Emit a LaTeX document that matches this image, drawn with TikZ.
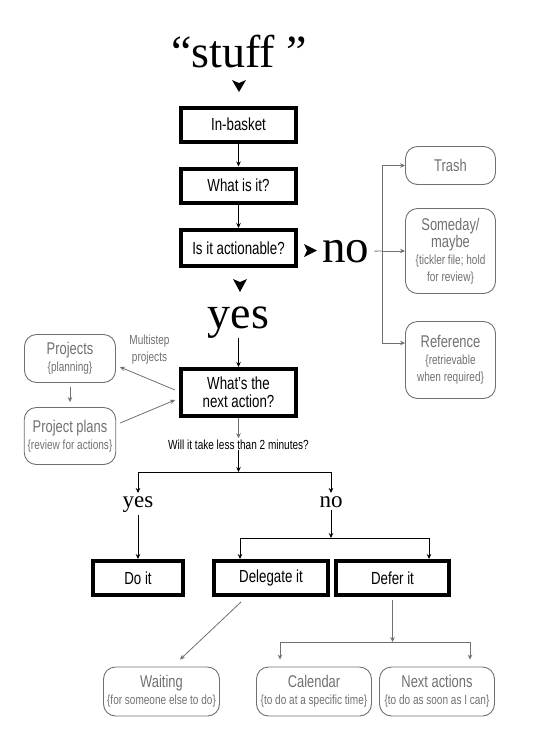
\documentclass[tikz,border=0pt]{standalone}
\usepackage{fontspec}
\setmainfont{Liberation Serif}
\setsansfont{Liberation Sans}[FakeStretch=0.76]
\usepackage{tikz}
\usetikzlibrary{arrows.meta, positioning}
\definecolor{GTDGray}{HTML}{707070}

\newcommand{\subnote}[1]{{\fontsize{13.2}{17}\selectfont #1}}

\begin{document}
\begin{tikzpicture}[
  x=1pt, y=1pt,
  action/.style={rectangle, draw, line width=4pt, minimum width=115pt, minimum height=34pt, align=center, font=\sffamily\fontsize{17.5}{18}\selectfont},
  outcome/.style={rectangle, draw=GTDGray, text=GTDGray, line width=0.9pt, rounded corners=12pt, minimum width=90pt, align=center, font=\sffamily\fontsize{17}{17}\selectfont},
  bigword/.style={inner sep=0pt, font=\fontsize{46}{46}\selectfont},
  smallword/.style={inner sep=3pt, font=\fontsize{23}{23}\selectfont},
  note/.style={inner sep=1pt, align=center, font=\sffamily\fontsize{13.2}{17}\selectfont},
  >={Stealth[length=5pt, width=4.5pt]},
  flow/.style={->, line width=0.8pt},
  gflow/.style={->, line width=0.8pt, draw=GTDGray},
  gline/.style={line width=0.8pt, draw=GTDGray}
]
\useasboundingbox (0,0) rectangle (542,-748);

% collect and process
\node[bigword, anchor=base] (Stuff) at (239,-67) {“stuff ”};
\fill (232,-80) -- (239,-83) -- (246,-80) -- (239,-92) -- cycle;
\node[action, minimum width=115pt] (InBasket) at (238.5,-124.5) {In-basket};
\node[action] (WhatIs) at (238.5,-185.5) {What is it?};
\node[action, minimum height=36pt] (Actionable) at (238.5,-248) {Is it actionable?};
\draw[flow] (InBasket) -- (WhatIs);
\draw[flow] (WhatIs) -- (Actionable);

% not actionable
\fill (304,-244) -- (307,-250.5) -- (304,-257) -- (317,-250.5) -- cycle;
\node[bigword, font=\fontsize{47}{47}\selectfont, anchor=base west] (No) at (322,-262) {no};
\node[outcome, minimum height=38pt] (Trash) at (450.5,-165.5) {Trash};
\node[outcome, minimum height=85pt] (Someday) at (450.5,-251) {Someday/\\maybe\\\subnote{\{tickler file; hold}\\\subnote{for review\}}};
\node[outcome, minimum height=77pt] (Reference) at (450.5,-360) {Reference\\\subnote{\{retrievable}\\\subnote{when required\}}};
\coordinate (NoSplit) at (382,-251);
\draw[gline] ([xshift=5pt]No.east) -- (NoSplit);
\draw[gflow] (NoSplit) |- (Trash.west);
\draw[gflow] (NoSplit) -- (Someday.west);
\draw[gflow] (NoSplit) |- ([yshift=17pt]Reference.west);

% actionable
\fill (233,-279) -- (240,-282) -- (247,-279) -- (240,-292) -- cycle;
\node[bigword, anchor=base] (Yes) at (238.5,-328) {yes};
\node[action, minimum height=47pt] (NextAction) at (238.5,-392.5) {What’s the\\next action?};
\draw[flow] (Yes) -- (NextAction);

% projects
\node[outcome, minimum width=91pt, minimum height=48pt] (Projects) at (70,-358.5) {Projects\\\subnote{\{planning\}}};
\node[outcome, minimum width=91pt, minimum height=57pt] (Plans) at (70,-436) {Project plans\\\subnote{\{review for actions\}}};
\node[note, text=GTDGray] (Multistep) at (149.5,-350) {Multistep\\projects};
\draw[gflow, shorten <=4pt, shorten >=5pt] (Projects) -- (Plans);
\draw[gflow] ([xshift=-4pt, yshift=2.5pt]NextAction.west) -- ([xshift=4pt, yshift=-8.5pt]Projects.east);
\draw[gflow] ([xshift=4pt, yshift=13pt]Plans.east) -- ([xshift=-4pt, yshift=-7.5pt]NextAction.west);

% two minute rule
\node[note, anchor=base] (TwoMinutes) at (238.5,-449) {Will it take less than 2 minutes?};
\draw[gflow] (NextAction) -- (TwoMinutes);
\coordinate (TwoSplit) at (238.5,-472);
\draw[flow] (TwoMinutes) -- (TwoSplit);
\node[smallword, anchor=base] (YesTwo) at (138,-507) {yes};
\node[smallword, anchor=base] (NoTwo) at (331,-507) {no};
\draw[flow] (TwoSplit) -| (YesTwo);
\draw[flow] (TwoSplit) -| (NoTwo);

\node[action, minimum width=90pt] (DoIt) at (138,-578) {Do it};
\node[action, minimum width=114pt] (Delegate) at (271,-578) {Delegate it};
\node[action, minimum width=113pt] (Defer) at (392.5,-578) {Defer it};
\draw[flow] (YesTwo) -- (DoIt);
\coordinate (DoSplit) at (331,-538);
\draw[flow] (NoTwo) -- (DoSplit);
\draw[flow] (DoSplit) -| ([xshift=-31pt]Delegate.north);
\draw[flow] (DoSplit) -| ([xshift=36.5pt]Defer.north);

% lists
\node[outcome, minimum width=116pt, minimum height=49pt] (Waiting) at (161.5,-691.5) {Waiting\\\subnote{\{for someone else to do\}}};
\node[outcome, minimum width=115pt, minimum height=49pt] (Calendar) at (314,-691.5) {Calendar\\\subnote{\{to do at a specific time\}}};
\node[outcome, minimum width=115pt, minimum height=49pt] (NextActions) at (437,-691.5) {Next actions\\\subnote{\{to do as soon as I can\}}};
\draw[gflow] ([xshift=-30pt, yshift=-5pt]Delegate.south) -- ([xshift=18.5pt, yshift=7pt]Waiting.north);
\coordinate (DeferSplit) at (392.5,-642);
\draw[gflow] ([yshift=-3pt]Defer.south) -- (DeferSplit);
\draw[gflow] (DeferSplit) -| ([xshift=-34pt, yshift=7pt]Calendar.north);
\draw[gflow] (DeferSplit) -| ([xshift=33pt, yshift=7pt]NextActions.north);
\end{tikzpicture}
\end{document}
